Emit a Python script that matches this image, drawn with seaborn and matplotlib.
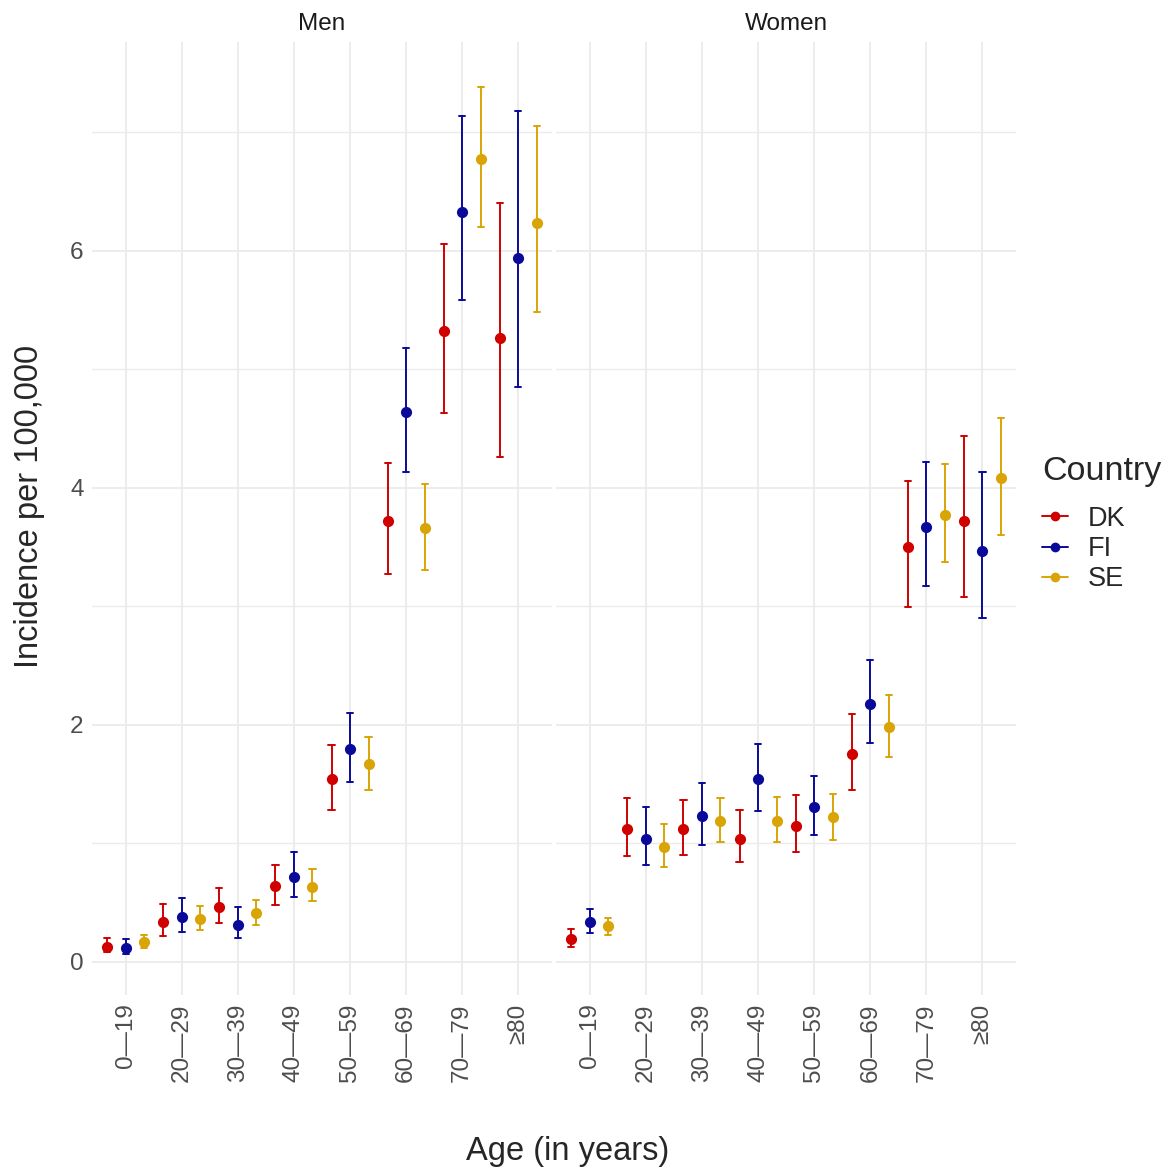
import pandas as pd
import numpy as np
import seaborn as sns
import matplotlib.pyplot as plt
from matplotlib.lines import Line2D
from matplotlib.ticker import MultipleLocator

# age groups and countries
ages = ['0—19', '20—29', '30—39', '40—49', '50—59', '60—69', '70—79', '≥80']
countries = ['DK', 'FI', 'SE']
sexes = ['Men', 'Women']
colors = {'DK': '#D00000', 'FI': '#0A0A9A', 'SE': '#D9A406'}

# incidence per 100,000 (estimate, lower, upper)
men_dk_est = [0.13, 0.34, 0.46, 0.64, 1.54, 3.72, 5.32, 5.26]
men_dk_lo = [0.08, 0.22, 0.33, 0.48, 1.28, 3.27, 4.63, 4.26]
men_dk_hi = [0.20, 0.49, 0.62, 0.82, 1.83, 4.21, 6.06, 6.40]
men_fi_est = [0.12, 0.38, 0.31, 0.72, 1.80, 4.64, 6.33, 5.94]
men_fi_lo = [0.07, 0.25, 0.20, 0.55, 1.52, 4.13, 5.58, 4.85]
men_fi_hi = [0.19, 0.54, 0.46, 0.93, 2.10, 5.18, 7.14, 7.18]
men_se_est = [0.17, 0.36, 0.41, 0.63, 1.67, 3.66, 6.77, 6.23]
men_se_lo = [0.12, 0.27, 0.31, 0.51, 1.45, 3.31, 6.20, 5.48]
men_se_hi = [0.23, 0.47, 0.52, 0.78, 1.90, 4.03, 7.38, 7.05]

women_dk_est = [0.19, 1.12, 1.12, 1.04, 1.15, 1.75, 3.50, 3.72]
women_dk_lo = [0.13, 0.89, 0.90, 0.84, 0.93, 1.45, 2.99, 3.08]
women_dk_hi = [0.28, 1.38, 1.37, 1.28, 1.41, 2.09, 4.06, 4.44]
women_fi_est = [0.34, 1.04, 1.23, 1.54, 1.31, 2.18, 3.67, 3.47]
women_fi_lo = [0.24, 0.82, 0.99, 1.27, 1.07, 1.85, 3.17, 2.90]
women_fi_hi = [0.45, 1.31, 1.51, 1.84, 1.57, 2.55, 4.22, 4.13]
women_se_est = [0.30, 0.97, 1.19, 1.19, 1.22, 1.98, 3.77, 4.08]
women_se_lo = [0.23, 0.80, 1.01, 1.01, 1.03, 1.73, 3.37, 3.60]
women_se_hi = [0.37, 1.16, 1.38, 1.39, 1.42, 2.25, 4.20, 4.59]

series = {
    ('Men', 'DK'): (men_dk_est, men_dk_lo, men_dk_hi),
    ('Men', 'FI'): (men_fi_est, men_fi_lo, men_fi_hi),
    ('Men', 'SE'): (men_se_est, men_se_lo, men_se_hi),
    ('Women', 'DK'): (women_dk_est, women_dk_lo, women_dk_hi),
    ('Women', 'FI'): (women_fi_est, women_fi_lo, women_fi_hi),
    ('Women', 'SE'): (women_se_est, women_se_lo, women_se_hi),
}

# long table: lower, estimate and upper as three rows -> median + full range
rows = []
for (sex, country), (est, lo, hi) in series.items():
    for i, age in enumerate(ages):
        for v in (lo[i], est[i], hi[i]):
            rows.append({'sex': sex, 'age': age, 'country': country, 'value': v})
data = pd.DataFrame(rows)

sns.set_style('white')
plt.rcParams['font.family'] = ['Liberation Sans', 'DejaVu Sans']

fig, axes = plt.subplots(1, 2, sharey=True, figsize=(11.72, 11.68), dpi=100)
fig.subplots_adjust(left=0.0785, right=0.867, top=0.964, bottom=0.148, wspace=0.009)

for ax, sex in zip(axes, sexes):
    sns.pointplot(data=data[data.sex == sex], x='age', y='value', hue='country',
                  order=ages, hue_order=countries, palette=colors,
                  estimator='median', errorbar=('pi', 100), dodge=0.66,
                  linestyle='none', markers='o', markersize=6, capsize=0.11,
                  err_kws={'linewidth': 1.4}, legend=False, ax=ax)
    ax.set_xlim(-0.6, 7.6)
    ax.set_ylim(-0.28, 7.76)
    ax.yaxis.set_major_locator(MultipleLocator(2))
    ax.yaxis.set_minor_locator(MultipleLocator(1))
    ax.grid(True, which='major', color='#EBEBEB', linewidth=1.3)
    ax.grid(True, which='minor', axis='y', color='#EBEBEB', linewidth=1.0)
    ax.set_axisbelow(True)
    for s in ax.spines.values():
        s.set_visible(False)
    ax.tick_params(which='both', length=0, labelsize=17.5, labelcolor='#4D4D4D', pad=6)
    ax.tick_params(axis='x', labelrotation=90)
    ax.set_title(sex, fontsize=17.5, color='#1A1A1A', pad=9)
    ax.set_xlabel('')
    ax.set_ylabel('')

axes[0].set_ylabel('Incidence per 100,000', fontsize=23.5)
axes[0].yaxis.set_label_coords(-0.103, 0.513)
fig.supxlabel('Age (in years)', fontsize=23.5, x=0.484, y=0.001)

handles = [Line2D([0], [0], color=colors[c], marker='o', markersize=6, linewidth=1.4)
           for c in countries]
leg = fig.legend(handles, countries, title='Country', loc='upper left',
                 bbox_to_anchor=(0.889, 0.610), frameon=False, fontsize=19.5,
                 title_fontsize=24.5, handlelength=0.95, labelspacing=0.15,
                 handletextpad=0.75, borderpad=0, borderaxespad=0)
leg._legend_box.align = 'left'
leg._legend_box.sep = 14

plt.savefig('out.png', dpi=100)
